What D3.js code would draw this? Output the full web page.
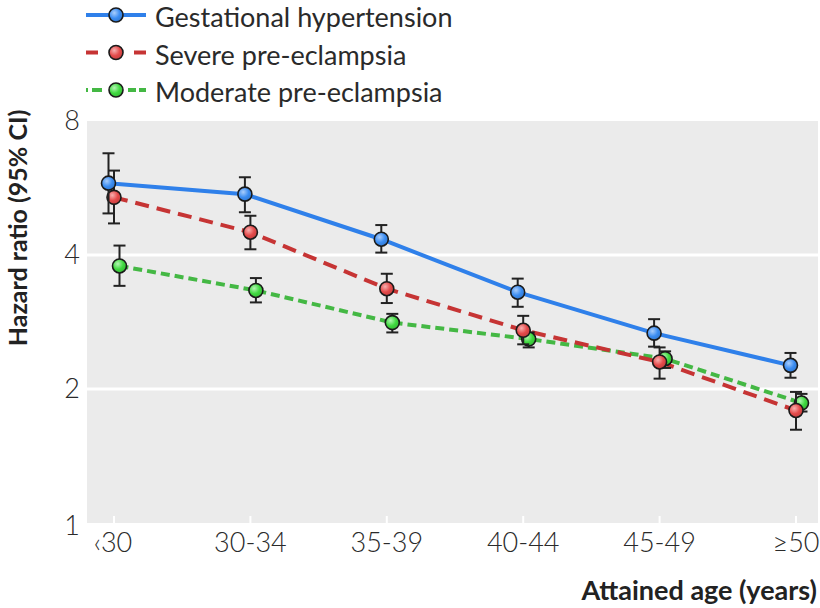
<!DOCTYPE html>
<html><head><meta charset="utf-8">
<script src="https://cdn.jsdelivr.net/npm/d3@7/dist/d3.min.js"></script>
<style>body{margin:0;background:#fff}svg{display:block}text{font-family:Lato,"Open Sans",sans-serif}</style>
</head><body>
<svg id="c" width="820" height="608"></svg>
<script>
const categories = ["\u2039" + "30", "30-34", "35-39", "40-44", "45-49", "\u226550"];
const seriesNames = ["Gestational hypertension", "Severe pre-eclampsia", "Moderate pre-eclampsia"];
const gestHR = [5.80, 5.48, 4.34, 3.30, 2.67, 2.26];
const gestLo = [4.96, 4.99, 4.05, 3.06, 2.49, 2.12];
const gestHi = [6.77, 5.98, 4.67, 3.54, 2.87, 2.41];
const sevHR = [5.39, 4.50, 3.36, 2.71, 2.30, 1.79];
const sevLo = [4.71, 4.12, 3.12, 2.52, 2.11, 1.62];
const sevHi = [6.19, 4.90, 3.63, 2.92, 2.48, 1.97];
const modHR = [3.78, 3.33, 2.82, 2.59, 2.34, 1.86];
const modLo = [3.41, 3.13, 2.68, 2.48, 2.23, 1.78];
const modHi = [4.20, 3.55, 2.95, 2.68, 2.43, 1.95];
const yTicks = [1, 2, 4, 8];

const svg = d3.select("#c");
const plot = {l: 87, r: 818, t: 121, b: 523};
const x = d3.scalePoint().domain(categories).range([114, 796]);
const y = d3.scaleLog().base(2).domain([1, 8]).range([plot.b, plot.t]);

const series = [
  {name: seriesNames[0], hr: gestHR, lo: gestLo, hi: gestHi, line: "#2f80ea", fill: "#3b8df2", hl: "#a9cdfb", dash: null, legDash: null, off: -5.5},
  {name: seriesNames[1], hr: sevHR, lo: sevLo, hi: sevHi, line: "#c63434", fill: "#e44a4a", hl: "#f8b0b0", dash: "14,8", legDash: "12,36,12", off: 0},
  {name: seriesNames[2], hr: modHR, lo: modLo, hi: modHi, line: "#44b844", fill: "#3fd93f", hl: "#b4f5b4", dash: "9,5", legDash: "2,4,10,26,8,3,7", off: 5.5}
];

const defs = svg.append("defs");
series.forEach((s, i) => {
  const g = defs.append("radialGradient").attr("id", "g" + i).attr("cx", "38%").attr("cy", "35%").attr("r", "65%");
  g.append("stop").attr("offset", "0%").attr("stop-color", s.hl);
  g.append("stop").attr("offset", "60%").attr("stop-color", s.fill);
  g.append("stop").attr("offset", "100%").attr("stop-color", d3.color(s.fill).darker(0.4));
});

svg.append("rect").attr("x", plot.l).attr("y", plot.t).attr("width", plot.r - plot.l).attr("height", plot.b - plot.t).attr("fill", "#ebebeb");
svg.append("g").selectAll("line").data([2, 4]).join("line")
  .attr("x1", plot.l).attr("x2", plot.r).attr("y1", d => y(d)).attr("y2", d => y(d))
  .attr("stroke", "#fff").attr("stroke-width", 3);
svg.append("g").selectAll("line").data(categories).join("line")
  .attr("x1", d => x(d)).attr("x2", d => x(d)).attr("y1", plot.b).attr("y2", plot.b - 7)
  .attr("stroke", "#fff").attr("stroke-width", 2);

svg.append("g").selectAll("text").data(yTicks).join("text")
  .attr("x", 80).attr("y", d => y(d) + (d === 1 ? 3 : 0)).attr("dy", "0.35em")
  .attr("text-anchor", "end").attr("font-size", 27).attr("font-weight", 300).attr("fill", "#2a2a2a").text(d => d);
svg.append("g").selectAll("text").data(categories).join("text")
  .attr("x", d => x(d) - (d === categories[0] ? 1 : 0)).attr("y", 552)
  .attr("text-anchor", "middle").attr("font-size", 27).attr("font-weight", 300).attr("fill", "#2a2a2a").text(d => d);
svg.append("text").attr("x", 817).attr("y", 600).attr("text-anchor", "end")
  .attr("font-size", 27).attr("font-weight", 700).attr("fill", "#222").text("Attained age (years)");
svg.append("text").attr("transform", "translate(27,228) rotate(-90)").attr("text-anchor", "middle")
  .attr("font-size", 25).attr("font-weight", 700).attr("fill", "#222").text("Hazard ratio (95% CI)");

const draw = series.slice().reverse();
draw.forEach(s => {
  const line = d3.line().x((d, i) => x(categories[i]) + s.off).y(d => y(d));
  svg.append("path").datum(s.hr).attr("d", line).attr("fill", "none")
    .attr("stroke", s.line).attr("stroke-width", 4).attr("stroke-dasharray", s.dash);
});
draw.forEach(s => {
  const i0 = series.indexOf(s);
  const g = svg.append("g");
  const cap = 6;
  categories.forEach((c, i) => {
    const cx = x(c) + s.off;
    g.append("line").attr("x1", cx).attr("x2", cx).attr("y1", y(s.lo[i])).attr("y2", y(s.hi[i])).attr("stroke", "#222").attr("stroke-width", 2);
    g.append("line").attr("x1", cx - cap).attr("x2", cx + cap).attr("y1", y(s.lo[i])).attr("y2", y(s.lo[i])).attr("stroke", "#222").attr("stroke-width", 2);
    g.append("line").attr("x1", cx - cap).attr("x2", cx + cap).attr("y1", y(s.hi[i])).attr("y2", y(s.hi[i])).attr("stroke", "#222").attr("stroke-width", 2);
  });
  g.selectAll("circle").data(s.hr).join("circle")
    .attr("cx", (d, i) => x(categories[i]) + s.off).attr("cy", d => y(d)).attr("r", 7)
    .attr("fill", `url(#g${i0})`).attr("stroke", "#1a1a1a").attr("stroke-width", 1.6);
});

const leg = svg.append("g");
series.forEach((s, i) => {
  const ly = 15 + i * 37.5;
  leg.append("line").attr("x1", 86).attr("x2", 146).attr("y1", ly).attr("y2", ly)
    .attr("stroke", s.line).attr("stroke-width", 4).attr("stroke-dasharray", s.legDash);
  leg.append("circle").attr("cx", 116).attr("cy", ly).attr("r", 7)
    .attr("fill", `url(#g${i})`).attr("stroke", "#1a1a1a").attr("stroke-width", 1.6);
  leg.append("text").attr("x", 155).attr("y", ly + 12)
    .attr("font-size", 27).attr("font-weight", 400).attr("fill", "#2a2a2a").text(s.name);
});
</script>
</body></html>
